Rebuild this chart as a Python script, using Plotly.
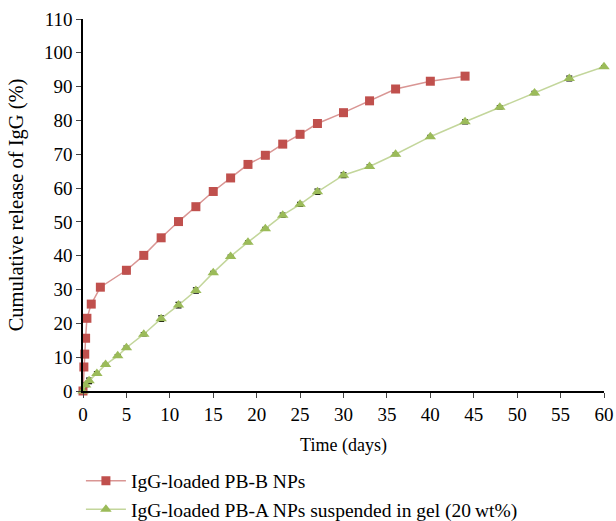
import plotly.graph_objects as go

# Data
red_t = [0, 0.1, 0.2, 0.3, 0.45, 0.95, 2, 5, 7, 9, 11, 13, 15, 17, 19, 21, 23, 25, 27, 30, 33, 36, 40, 44]
red_v = [0, 7.1, 10.9, 15.6, 21.5, 25.7, 30.7, 35.7, 40.1, 45.3, 50.1, 54.5, 59.0, 63.0, 67.0, 69.7, 73.0, 75.9, 79.1, 82.3, 85.8, 89.3, 91.6, 93.1]
red_e = [0.3, 0.4, 0.5, 0.8, 0.8, 1.0, 0.5, 1.0, 0.4, 0.8, 0.9, 0.4, 0.4, 0.4, 0.4, 0.4, 0.4, 0.4, 0.4, 0.5, 0.4, 1.0, 0.8, 0.4]

grn_t = [0, 0.3, 0.7, 1.6, 2.6, 4, 5, 7, 9, 11, 13, 15, 17, 19, 21, 23, 25, 27, 30, 33, 36, 40, 44, 48, 52, 56, 60]
grn_v = [0, 1.8, 3.0, 5.2, 7.8, 10.4, 12.8, 16.8, 21.4, 25.4, 29.7, 35.0, 39.8, 44.0, 48.0, 52.0, 55.2, 58.9, 63.8, 66.4, 70.0, 75.2, 79.6, 83.9, 88.1, 92.4, 95.9]
grn_e = [0.3, 0.5, 0.8, 0.5, 0.4, 0.4, 0.5, 0.5, 0.8, 0.8, 0.8, 0.4, 0.4, 0.4, 0.4, 0.6, 0.6, 0.8, 0.7, 0.5, 0.4, 0.4, 0.6, 0.5, 0.5, 0.7, 0.3]

x_ticks = list(range(0, 61, 5))
y_ticks = list(range(0, 111, 10))

FONT = "Liberation Serif"

fig = go.Figure()
fig.add_trace(go.Scatter(
    x=red_t, y=red_v, mode="lines+markers", name="IgG-loaded PB-B NPs",
    line=dict(color="#D99694", width=1.5),
    marker=dict(symbol="square", size=9, color="#C0504D"),
    error_y=dict(type="data", array=red_e, color="black", thickness=1.2, width=3),
    cliponaxis=False,
))
fig.add_trace(go.Scatter(
    x=grn_t, y=grn_v, mode="lines+markers", name="IgG-loaded PB-A NPs suspended in gel (20\u2009wt%)",
    line=dict(color="#C3D69B", width=1.5),
    marker=dict(symbol="triangle-up", size=10, color="#9BBB59"),
    error_y=dict(type="data", array=grn_e, color="black", thickness=1.2, width=3),
    cliponaxis=False,
))

fig.update_layout(
    width=616, height=521,
    margin=dict(l=83, r=12, t=19, b=130),
    paper_bgcolor="white", plot_bgcolor="white",
    font=dict(family=FONT, size=18, color="black"),
    showlegend=True,
    legend=dict(xref="paper", yref="container",
                x=-0.004, y=0.114, xanchor="left", yanchor="top",
                font=dict(family=FONT, size=19.5), tracegroupgap=0,
                itemwidth=40, bgcolor="rgba(0,0,0,0)"),
    xaxis=dict(range=[0, 60], tickvals=x_ticks, ticks="outside", ticklen=5,
               showline=True, linecolor="black", linewidth=1.5, showgrid=False,
               zeroline=False, automargin=False,
               title=dict(text="Time (days)", font=dict(size=18)),
               tickfont=dict(size=19)),
    yaxis=dict(range=[0, 110], tickvals=y_ticks, ticks="outside", ticklen=5,
               showline=True, linecolor="black", linewidth=1.5, showgrid=False,
               zeroline=False, automargin=False,
               title=dict(text="Cumulative release of IgG (%)", font=dict(size=20.5)),
               tickfont=dict(size=19)),
)

fig.write_html("out.html")
